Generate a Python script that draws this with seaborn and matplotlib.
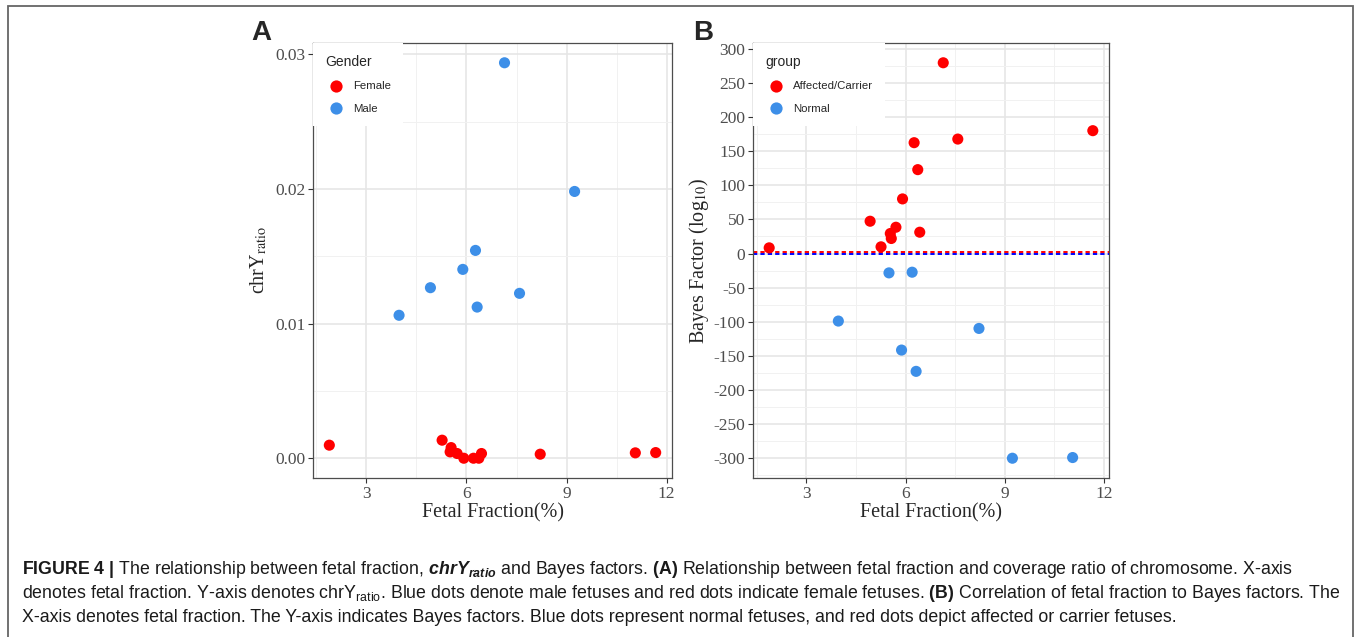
import matplotlib
matplotlib.use("Agg")
import matplotlib.pyplot as plt
from matplotlib.ticker import MultipleLocator, FormatStrFormatter
from matplotlib.patches import Rectangle
from matplotlib.font_manager import FontProperties
import pandas as pd
import seaborn as sns

# --- panel A : chrY ratio against fetal fraction ---
ff_female = [1.89, 5.27, 5.54, 5.51, 5.72, 5.92, 6.21, 6.37, 6.45, 8.21, 11.06, 11.67]
chry_female = [0.00097, 0.00134, 0.00079, 0.00047, 0.00035, 0.0, 0.0, 0.0, 0.00035, 0.0003, 0.0004, 0.00042]
ff_male = [3.98, 4.92, 5.89, 6.27, 6.32, 7.14, 7.59, 9.24]
chry_male = [0.01062, 0.01267, 0.01403, 0.01544, 0.01123, 0.02938, 0.01225, 0.01982]

# --- panel B : Bayes factor (log10) against fetal fraction ---
ff_affected = [1.88, 4.93, 5.26, 5.54, 5.57, 5.71, 5.91, 6.26, 6.37, 6.43, 7.14, 7.58, 11.66]
bf_affected = [8.3, 47.3, 9.8, 29.3, 22.0, 38.5, 80.0, 162.4, 122.9, 31.2, 279.5, 167.7, 180.0]
ff_normal = [3.97, 5.50, 5.88, 6.20, 6.32, 8.22, 9.23, 11.05]
bf_normal = [-99.0, -28.4, -141.5, -27.4, -172.7, -109.8, -300.0, -299.0]
threshold_red = 2.5
threshold_blue = -1.0

x_ticks = [3, 6, 9, 12]
a_yticks = [0.0, 0.01, 0.02, 0.03]
b_yticks = list(range(-300, 301, 50))

RED = "#FF0000"
BLUE = "#3D8FE8"

sns.set_theme(style="white")
plt.rcParams["font.family"] = ["Liberation Serif", "DejaVu Serif"]
plt.rcParams["axes.unicode_minus"] = False
plt.rcParams["mathtext.fontset"] = "custom"
plt.rcParams["mathtext.rm"] = "Liberation Sans"
plt.rcParams["mathtext.bf"] = "Liberation Sans:bold"
plt.rcParams["mathtext.it"] = "Liberation Sans:italic"
plt.rcParams["mathtext.bfit"] = "Liberation Sans:italic:bold"

df_a = pd.DataFrame({
    "ff": ff_female + ff_male,
    "val": chry_female + chry_male,
    "Gender": ["Female"] * len(ff_female) + ["Male"] * len(ff_male),
})
df_b = pd.DataFrame({
    "ff": ff_affected + ff_normal,
    "val": bf_affected + bf_normal,
    "group": ["Affected/Carrier"] * len(ff_affected) + ["Normal"] * len(ff_normal),
})

W, H = 1356, 637
fig = plt.figure(figsize=(W / 100, H / 100), dpi=100)
ax_a = fig.add_axes([313 / W, 1 - 478 / H, 359 / W, 435 / H])
ax_b = fig.add_axes([753 / W, 1 - 478 / H, 356 / W, 435 / H])


def expand(vals, frac=0.05):
    lo, hi = min(vals), max(vals)
    pad = (hi - lo) * frac
    return lo - pad, hi + pad


def style(ax, df, hue, order, yticks, yminor):
    sns.scatterplot(data=df, x="ff", y="val", hue=hue, hue_order=order,
                    palette=dict(zip(order, [RED, BLUE])), s=64, linewidth=0,
                    ax=ax, zorder=3)
    ax.set_xlim(expand(df["ff"].tolist()))
    ax.set_ylim(expand(df["val"].tolist()))
    ax.set_xticks(x_ticks)
    ax.set_yticks(yticks)
    ax.xaxis.set_minor_locator(MultipleLocator(1.5))
    ax.yaxis.set_minor_locator(MultipleLocator(yminor))
    ax.grid(True, which="major", color="#E6E6E6", lw=1.2)
    ax.grid(True, which="minor", color="#F1F1F1", lw=0.7)
    ax.set_axisbelow(True)
    for sp in ax.spines.values():
        sp.set_color("#4D4D4D")
        sp.set_linewidth(0.9)
    ax.tick_params(which="major", direction="out", length=3.5, width=0.8,
                   color="#333333", labelsize=12.5, labelcolor="#4D4D4D",
                   pad=2, bottom=True, left=True)
    ax.tick_params(which="minor", length=0)
    ax.set_xlabel("Fetal Fraction(%)", fontsize=14.5, labelpad=1)
    sns.move_legend(ax, "upper left", bbox_to_anchor=(0, 1), borderaxespad=0,
                    frameon=True, title=hue,
                    prop={"family": "Liberation Sans", "size": 8.2},
                    title_fontproperties=FontProperties(family="Liberation Sans", size=10),
                    alignment="left", labelspacing=1.1, handletextpad=0.45,
                    borderpad=1.05, fancybox=False, markerscale=1.1)
    leg = ax.get_legend()
    leg.get_frame().set_edgecolor("none")
    leg.get_frame().set_facecolor("white")
    leg.get_frame().set_alpha(1)


style(ax_a, df_a, "Gender", ["Female", "Male"], a_yticks, 0.005)
ax_a.yaxis.set_major_formatter(FormatStrFormatter("%.2f"))
ax_a.set_ylabel(r"chrY$_{\mathrm{ratio}}$", fontsize=14.5, math_fontfamily="stix", labelpad=4)

style(ax_b, df_b, "group", ["Affected/Carrier", "Normal"], b_yticks, 25)
ax_b.axhline(threshold_red, color="red", lw=1.4, ls=(0, (2.2, 1.6)), zorder=2)
ax_b.axhline(threshold_blue, color="blue", lw=1.4, ls=(0, (2.2, 1.6)), zorder=2)
ax_b.set_ylabel(r"Bayes Factor (log$_{\mathrm{10}}$)", fontsize=14.5, math_fontfamily="stix", labelpad=2)

fig.text(261 / W, 1 - 33 / H, "A", ha="center", va="center", fontsize=20,
         fontweight="bold", family="Liberation Sans")
fig.text(703 / W, 1 - 33 / H, "B", ha="center", va="center", fontsize=20,
         fontweight="bold", family="Liberation Sans")

caption = [
    r"$\mathbf{FIGURE\ 4\ |}$ The relationship between fetal fraction, $\mathbfit{chrY}_{\mathbfit{ratio}}$ and Bayes factors. "
    r"$\mathbf{(A)}$ Relationship between fetal fraction and coverage ratio of chromosome. X-axis",
    r"denotes fetal fraction. Y-axis denotes chrY$_{\mathrm{ratio}}$. Blue dots denote male fetuses and red dots indicate female fetuses. "
    r"$\mathbf{(B)}$ Correlation of fetal fraction to Bayes factors. The",
    "X-axis denotes fetal fraction. The Y-axis indicates Bayes factors. Blue dots represent normal fetuses, and red dots depict affected or carrier fetuses.",
]
for i, line in enumerate(caption):
    fig.text(22 / W, 1 - (569 + 24.5 * i) / H, line, ha="left", va="center",
             fontsize=12.75, family="Liberation Sans", color="#1a1a1a")

fig.patches.append(Rectangle((8 / W, -0.05), (1353 - 8) / W, 1.05 - 6.5 / H,
                             transform=fig.transFigure, fill=False,
                             ec="#666666", lw=1.3))

fig.savefig("out.png", dpi=100)
